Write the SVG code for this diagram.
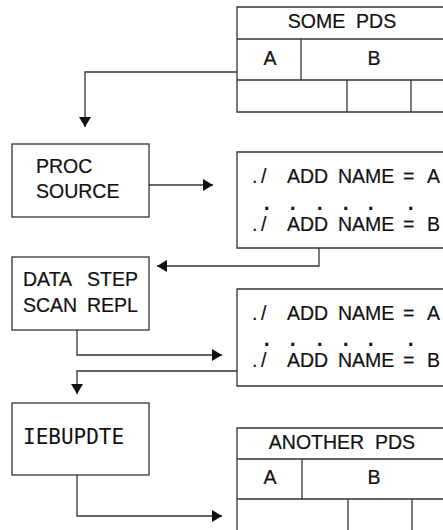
<svg xmlns="http://www.w3.org/2000/svg" width="443" height="530" viewBox="0 0 443 530">
  <style>
    .box { fill: #fff; stroke: #333; stroke-width: 1.3; }
    .ln { fill: none; stroke: #333; stroke-width: 1.3; }
    .t { font-family: "Liberation Sans", Arial, sans-serif; font-size: 19.5px; fill: #111; stroke: #111; stroke-width: 0.2; }
    .dots { font-weight: bold; }
    .m { font-family: "DejaVu Sans Mono", monospace; font-size: 21px; fill: #111; }
    .c { text-anchor: middle; }
  </style>
  <defs>
    <marker id="arrow" viewBox="0 0 10 12" refX="10" refY="6" markerWidth="10" markerHeight="12" markerUnits="userSpaceOnUse" orient="auto">
      <path d="M0,0 L10,6 L0,12 Z" fill="#111"/>
    </marker>
  </defs>

  <!-- source library -->
  <g id="some-pds">
    <path class="ln" d="M443,7 H237 V112 H443 M237,39 H443 M237,80 H443 M301,39 V80 M347,80 V112 M411,80 V112"/>
    <text class="t c" x="342" y="28" xml:space="preserve">SOME  PDS</text>
    <text class="t c" x="270" y="65">A</text>
    <text class="t c" x="374" y="65">B</text>
  </g>

  <g id="proc-source">
    <rect class="box" x="12" y="144" width="137" height="73"/>
    <text class="t" x="36" y="173">PROC</text>
    <text class="t" x="36" y="198">SOURCE</text>
  </g>

  <g id="listing-1">
    <path class="ln" d="M443,152 H237 V248 H443"/>
    <text class="t" y="183"><tspan x="252">.</tspan><tspan x="261">/ </tspan><tspan x="287">ADD </tspan><tspan x="338">NAME </tspan><tspan x="403">= </tspan><tspan x="427">A</tspan></text>
    <text class="t dots" y="210"><tspan x="264">. </tspan><tspan x="290">. </tspan><tspan x="317">. </tspan><tspan x="343">. </tspan><tspan x="368">. </tspan><tspan x="408">.</tspan></text>
    <text class="t" y="231"><tspan x="252">.</tspan><tspan x="261">/ </tspan><tspan x="287">ADD </tspan><tspan x="338">NAME </tspan><tspan x="403">= </tspan><tspan x="427">B</tspan></text>
  </g>

  <g id="data-step">
    <rect class="box" x="12" y="257" width="137" height="73"/>
    <text class="t" y="286"><tspan x="23">DATA </tspan><tspan x="87">STEP</tspan></text>
    <text class="t" y="312"><tspan x="23">SCAN </tspan><tspan x="87">REPL</tspan></text>
  </g>

  <g id="listing-2">
    <path class="ln" d="M443,289 H237 V386 H443"/>
    <text class="t" y="320"><tspan x="252">.</tspan><tspan x="261">/ </tspan><tspan x="287">ADD </tspan><tspan x="338">NAME </tspan><tspan x="403">= </tspan><tspan x="427">A</tspan></text>
    <text class="t dots" y="346"><tspan x="264">. </tspan><tspan x="290">. </tspan><tspan x="317">. </tspan><tspan x="343">. </tspan><tspan x="368">. </tspan><tspan x="408">.</tspan></text>
    <text class="t" y="367"><tspan x="252">.</tspan><tspan x="261">/ </tspan><tspan x="287">ADD </tspan><tspan x="338">NAME </tspan><tspan x="403">= </tspan><tspan x="427">B</tspan></text>
  </g>

  <g id="iebupdte">
    <rect class="box" x="12" y="403" width="137" height="72"/>
    <text class="m" x="23" y="444">IEBUPDTE</text>
  </g>

  <!-- target library -->
  <g id="another-pds">
    <path class="ln" d="M443,428 H237 V530 M237,459 H443 M237,499 H443 M302,459 V499 M348,499 V530 M412,499 V530"/>
    <text class="t c" x="342" y="449" xml:space="preserve">ANOTHER  PDS</text>
    <text class="t c" x="270" y="484">A</text>
    <text class="t c" x="374" y="484">B</text>
  </g>

  <g id="connectors">
    <path class="ln" d="M237,72 H85 V127" marker-end="url(#arrow)"/>
    <path class="ln" d="M149,185 H213" marker-end="url(#arrow)"/>
    <path class="ln" d="M319,248 V266 H157" marker-end="url(#arrow)"/>
    <path class="ln" d="M77,330 V355 H222" marker-end="url(#arrow)"/>
    <path class="ln" d="M237,371 H77 V394" marker-end="url(#arrow)"/>
    <path class="ln" d="M77,475 V516 H222" marker-end="url(#arrow)"/>
  </g>
</svg>
